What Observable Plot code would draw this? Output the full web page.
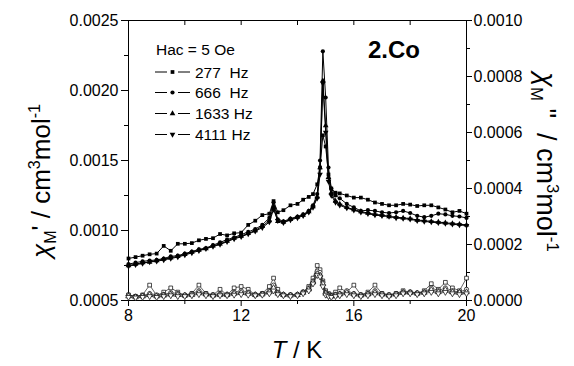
<!DOCTYPE html>
<html>
<head>
<meta charset="utf-8">
<script src="https://cdn.jsdelivr.net/npm/d3@7"></script>
<script src="https://cdn.jsdelivr.net/npm/@observablehq/plot@0.6"></script>
<style>
  html, body { margin: 0; padding: 0; background: #fff; }
  #chart svg { display: block; }
</style>
</head>
<body>
<div id="chart"></div>
<script>
// Temperature (K)
const temps = [8.0, 8.25, 8.5, 8.75, 9.0, 9.25, 9.5, 9.75, 10.0, 10.25, 10.5, 10.75, 11.0, 11.25, 11.5, 11.75, 12.0, 12.25, 12.5, 12.75, 13.0,
  13.15, 13.3, 13.5, 13.75, 14.0, 14.2, 14.4, 14.55, 14.7, 14.8, 14.9, 15.0, 15.1, 15.2, 15.35,
  15.5, 15.75, 16.0, 16.25, 16.5, 16.75, 17.0, 17.25, 17.5, 17.75, 18.0, 18.25, 18.5, 18.75, 19.0, 19.25, 19.5, 19.75, 20.0];

const frequencies = ["277  Hz", "666  Hz", "1633 Hz", "4111 Hz"];

// chi_M' in 1e-3 cm3 mol-1
const chi1_277 = [0.80, 0.81, 0.82, 0.83, 0.835, 0.89, 0.855, 0.905, 0.905, 0.91, 0.93, 0.94, 0.945, 0.975, 0.965, 0.98, 0.985, 1.04, 1.07, 1.11, 1.12,
  1.21, 1.13, 1.145, 1.18, 1.19, 1.22, 1.24, 1.26, 1.33, 1.45, 1.68, 1.60, 1.40, 1.30, 1.27,
  1.265, 1.25, 1.235, 1.235, 1.22, 1.20, 1.19, 1.18, 1.18, 1.19, 1.185, 1.175, 1.18, 1.18, 1.165, 1.15, 1.13, 1.14, 1.12];
const chi1_666 = [0.76, 0.77, 0.78, 0.785, 0.79, 0.80, 0.815, 0.82, 0.835, 0.85, 0.865, 0.875, 0.895, 0.915, 0.935, 0.95, 0.97, 0.99, 1.01, 1.04, 1.09,
  1.20, 1.08, 1.065, 1.085, 1.10, 1.115, 1.14, 1.18, 1.26, 1.50, 2.28, 1.95, 1.45, 1.30, 1.25,
  1.23, 1.19, 1.165, 1.14, 1.145, 1.14, 1.13, 1.125, 1.13, 1.14, 1.125, 1.105, 1.095, 1.105, 1.12, 1.115, 1.105, 1.10, 1.09];
const chi1_1633 = [0.75, 0.76, 0.77, 0.775, 0.785, 0.795, 0.805, 0.815, 0.83, 0.845, 0.86, 0.87, 0.89, 0.905, 0.925, 0.945, 0.96, 0.98, 1.00, 1.03, 1.07,
  1.17, 1.065, 1.06, 1.08, 1.095, 1.11, 1.135, 1.17, 1.24, 1.45, 2.07, 1.75, 1.38, 1.27, 1.21,
  1.19, 1.165, 1.15, 1.135, 1.125, 1.115, 1.11, 1.10, 1.095, 1.09, 1.085, 1.075, 1.07, 1.065, 1.06, 1.055, 1.05, 1.045, 1.04];
const chi1_4111 = [0.745, 0.755, 0.765, 0.775, 0.78, 0.79, 0.80, 0.81, 0.825, 0.84, 0.855, 0.87, 0.885, 0.90, 0.92, 0.94, 0.955, 0.975, 0.995, 1.02, 1.06,
  1.15, 1.07, 1.055, 1.075, 1.09, 1.105, 1.13, 1.165, 1.23, 1.40, 2.05, 1.70, 1.35, 1.25, 1.20,
  1.18, 1.16, 1.145, 1.13, 1.12, 1.11, 1.105, 1.10, 1.09, 1.085, 1.08, 1.07, 1.065, 1.06, 1.055, 1.05, 1.045, 1.04, 1.035];

// chi_M'' in 1e-5 cm3 mol-1
const chi2_277 = [2.0, 1.5, 2.0, 5.5, 1.8, 3.0, 4.5, 3.0, 1.8, 2.5, 5.5, 2.5, 2.0, 4.0, 2.0, 4.5, 5.0, 4.0, 2.0, 2.5, 5.0,
  8.0, 4.0, 2.0, 2.0, 2.0, 3.0, 5.0, 8.0, 12.5, 11.0, 7.0, 3.5, 2.5, 2.0, 3.0,
  4.5, 3.0, 5.5, 2.0, 3.0, 5.5, 2.5, 2.0, 2.5, 3.5, 3.0, 2.5, 3.5, 6.0, 4.0, 6.5, 4.5, 3.5, 8.0];
const chi2_666 = [2.0, 1.5, 1.8, 2.5, 2.0, 2.2, 2.8, 2.5, 2.0, 2.5, 3.5, 2.5, 2.0, 2.5, 2.2, 3.0, 3.5, 3.0, 2.2, 2.5, 3.5,
  5.5, 3.0, 2.2, 2.0, 2.2, 3.0, 4.5, 7.0, 10.5, 10.0, 6.5, 3.0, 2.0, 1.8, 2.2,
  2.5, 3.5, 2.5, 2.0, 2.5, 3.5, 2.5, 2.0, 2.5, 3.0, 3.0, 2.8, 3.0, 4.5, 3.5, 4.5, 3.5, 3.0, 4.0];
const chi2_1633 = [1.5, 1.2, 1.5, 2.0, 1.5, 1.8, 2.2, 2.0, 1.8, 2.0, 2.8, 2.2, 1.8, 2.0, 2.0, 2.5, 2.8, 2.5, 2.0, 2.2, 3.0,
  4.5, 2.5, 2.0, 1.8, 2.0, 2.8, 4.0, 6.5, 9.5, 9.0, 6.0, 2.5, 1.8, 1.5, 1.8,
  2.2, 2.8, 2.2, 1.8, 2.2, 2.8, 2.2, 1.8, 2.2, 2.8, 2.8, 2.5, 2.8, 3.8, 3.0, 3.8, 3.0, 2.8, 3.0];
const chi2_4111 = [1.2, 1.0, 1.2, 1.5, 1.2, 1.5, 1.8, 1.5, 1.5, 1.8, 2.2, 1.8, 1.5, 1.8, 1.8, 2.0, 2.2, 2.0, 1.8, 2.0, 2.5,
  3.5, 2.2, 1.8, 1.5, 1.8, 2.5, 3.5, 6.0, 9.0, 8.5, 5.0, 2.0, 1.5, 1.2, 1.5,
  1.8, 2.2, 1.8, 1.5, 1.8, 2.2, 1.8, 1.5, 1.8, 2.5, 2.5, 2.2, 2.5, 3.0, 2.5, 3.0, 2.5, 2.2, 2.5];

// tick values
const xMajor = [8, 12, 16, 20];
const xMinor = [10, 14, 18];
const xTop = [10, 12, 14, 16, 18];
const yLeftMajor = [0.0005, 0.0010, 0.0015, 0.0020, 0.0025];
const yLeftMinor = [0.00075, 0.00125, 0.00175, 0.00225];
const yRightMajor = [0.0000, 0.0002, 0.0004, 0.0006, 0.0008, 0.0010];
const yRightMinor = [0.0001, 0.0003, 0.0005, 0.0007, 0.0009];

// ---- build tables ----
const sqrt3 = Math.sqrt(3);
const triangleDown = {
  draw(context, size) {
    const y = -Math.sqrt(size / (sqrt3 * 3));
    context.moveTo(0, -y * 2);
    context.lineTo(-sqrt3 * y, y);
    context.lineTo(sqrt3 * y, y);
    context.closePath();
  }
};
const symbols = ["square", "circle", "triangle", triangleDown];
const d3Symbols = [d3.symbolSquare, d3.symbolCircle, d3.symbolTriangle, triangleDown];
const chi1 = [chi1_277, chi1_666, chi1_1633, chi1_4111];
const chi2 = [chi2_277, chi2_666, chi2_1633, chi2_4111];
// right axis (chi'') is drawn on the left scale: left = 0.0005 + 2 * right
const toLeft = v => 0.0005 + 2 * v;

const inPhase = chi1.map(arr => arr.map((v, i) => ({T: temps[i], y: v * 1e-3})));
const outPhase = chi2.map(arr => arr.map((v, i) => ({T: temps[i], y: toLeft(v * 1e-5)})));

const W = 574, H = 366, mL = 128, mR = 108, mT = 20, mB = 66;
const fmt4 = d3.format(".4f");

const marks = [
  Plot.frame({stroke: "black", strokeWidth: 1}),
  Plot.axisX(xMajor, {tickSize: 6, tickPadding: 3, tickFormat: d => String(d), label: null}),
  Plot.axisX(xMinor, {tickSize: 4, tickFormat: () => "", label: null}),
  Plot.tickX(xTop, {x: d => d, stroke: "black", insetBottom: H - mT - mB - 5}),
  Plot.axisY(yLeftMajor, {tickSize: 7, tickPadding: 3, tickFormat: fmt4, label: null}),
  Plot.axisY(yLeftMinor, {tickSize: 4, tickFormat: () => "", label: null}),
  Plot.axisY(yRightMajor.map(toLeft), {anchor: "right", tickSize: 5, tickPadding: 2, tickFormat: d => fmt4((d - 0.0005) / 2), label: null}),
  Plot.axisY(yRightMinor.map(toLeft), {anchor: "right", tickSize: 3, tickFormat: () => "", label: null})
];

outPhase.forEach((rows, k) => {
  marks.push(Plot.line(rows, {x: "T", y: "y", stroke: "#222", strokeWidth: 0.7}));
  marks.push(Plot.dot(rows, {x: "T", y: "y", symbol: symbols[k], r: 2.1, fill: "white", stroke: "black", strokeWidth: 0.7}));
});
inPhase.forEach((rows, k) => {
  marks.push(Plot.line(rows, {x: "T", y: "y", stroke: "black", strokeWidth: 1}));
  marks.push(Plot.dot(rows, {x: "T", y: "y", symbol: symbols[k], r: 2.1, fill: "black", stroke: "none"}));
});

const chart = Plot.plot({
  width: W, height: H,
  marginLeft: mL, marginRight: mR, marginTop: mT, marginBottom: mB,
  x: {domain: [8, 20]},
  y: {domain: [0.0005, 0.0025]},
  style: {fontFamily: "'Liberation Sans', Arial, sans-serif", fontSize: "16px", background: "white", color: "black"},
  marks
});
document.getElementById("chart").appendChild(chart);

// ---- titles, labels and legend (text) ----
const svg = d3.select(chart);
const font = "'Liberation Sans', Arial, sans-serif";

function chiLabel(g, primes, fs) {
  const s = fs * 0.62;
  const t = g.append("text").attr("font-family", font).attr("font-size", fs).attr("text-anchor", "middle").attr("fill", "black");
  t.append("tspan").attr("font-style", "italic").text("χ");
  t.append("tspan").attr("font-size", s).attr("dy", fs * 0.22).text("M");
  t.append("tspan").attr("dy", -fs * 0.22).style("white-space", "pre").text(primes + " / cm");
  t.append("tspan").attr("font-size", s).attr("dy", -fs * 0.38).text("3");
  t.append("tspan").attr("dy", fs * 0.38).text("mol");
  t.append("tspan").attr("font-size", s).attr("dy", -fs * 0.38).text("-1");
}
chiLabel(svg.append("g").attr("transform", "translate(50,181) rotate(-90)"), "'", 26);
chiLabel(svg.append("g").attr("transform", "translate(537,162) rotate(90)"), " \" ", 27);

const xt = svg.append("text").attr("x", 297).attr("y", 358).attr("font-family", font).attr("font-size", 24).attr("text-anchor", "middle").attr("fill", "black");
xt.append("tspan").attr("font-style", "italic").text("T");
xt.append("tspan").style("white-space", "pre").text(" / K");

svg.append("text").attr("x", 368).attr("y", 58).attr("text-anchor", "start").attr("font-family", font).attr("font-size", 24).attr("font-weight", "bold").attr("fill", "black").text("2.Co");

svg.append("text").attr("x", 156).attr("y", 55).attr("text-anchor", "start").attr("font-family", font).attr("font-size", 15.5).attr("fill", "black").text("Hac = 5 Oe");
const legendY = [72, 92.5, 113.5, 134.5];
frequencies.forEach((lab, k) => {
  const y = legendY[k];
  svg.append("line").attr("x1", 155).attr("x2", 167).attr("y1", y).attr("y2", y).attr("stroke", "black").attr("stroke-width", 1);
  svg.append("line").attr("x1", 178).attr("x2", 190).attr("y1", y).attr("y2", y).attr("stroke", "black").attr("stroke-width", 1);
  svg.append("path").attr("transform", `translate(172.5,${y})`).attr("d", d3.symbol(d3Symbols[k], Math.PI * 2.1 * 2.1)()).attr("fill", "black");
  svg.append("text").attr("x", 195).attr("y", y + 5.5).attr("text-anchor", "start").attr("font-family", font).attr("font-size", 15.5).attr("fill", "black").style("white-space", "pre").text(lab);
});
</script>
</body>
</html>
